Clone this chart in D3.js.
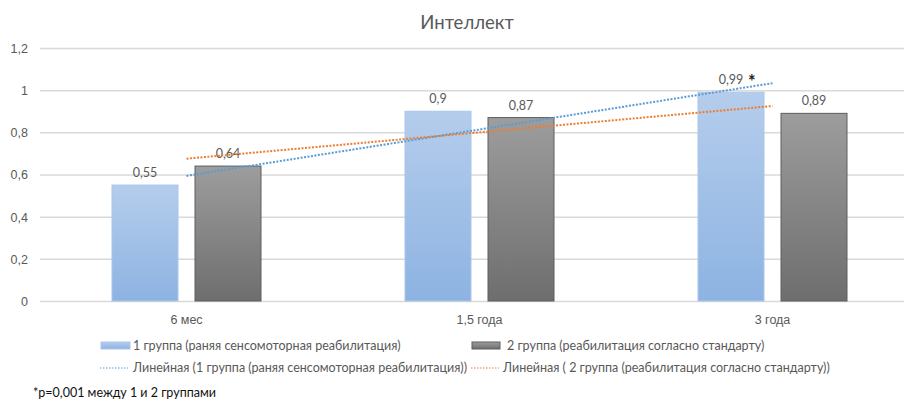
<!DOCTYPE html>
<html>
<head>
<meta charset="utf-8">
<script src="https://cdn.jsdelivr.net/npm/d3@7"></script>
<style>
  html, body { margin: 0; padding: 0; background: #fff; }
  svg { display: block; font-family: Lato, "Open Sans", "Noto Sans", sans-serif; }
</style>
</head>
<body>
<svg id="chart" width="904" height="401"></svg>
<script>
// Chart data
const categories = ["6 мес", "1,5 года", "3 года"];
const group1 = [0.55, 0.9, 0.99];
const group2 = [0.64, 0.87, 0.89];
const seriesNames = [
  "1 группа (раняя сенсомоторная реабилитация)",
  "2 группа (реабилитация согласно стандарту)"
];
const trendNames = [
  "Линейная (1 группа (раняя сенсомоторная реабилитация))",
  "Линейная ( 2 группа (реабилитация согласно стандарту))"
];
const yTicks = [0, 0.2, 0.4, 0.6, 0.8, 1, 1.2];
const starredIndex = 2; // significant difference at 3 года
const title = "Интеллект";
const footnote = "*p=0,001 между 1 и 2 группами";

const svg = d3.select("#chart");
const fmt = v => String(v).replace(".", ",");
const textColor = "#595959";
const fs = "12.5px";

const x = d3.scaleBand().domain(categories).range([40, 919]);
const y = d3.scaleLinear().domain([0, 1.2]).range([301, 48]);
const barW = 66, barGap = 17;

// gradients
const defs = svg.append("defs");
function grad(id, top, bottom) {
  const g = defs.append("linearGradient").attr("id", id)
    .attr("x1", 0).attr("y1", 0).attr("x2", 0).attr("y2", 1);
  g.append("stop").attr("offset", "0%").attr("stop-color", top);
  g.append("stop").attr("offset", "100%").attr("stop-color", bottom);
}
grad("gBlue", "#b5cdec", "#8db3e2");
grad("gGray", "#9d9d9d", "#6e6e6e");

// title
svg.append("text").attr("x", 467).attr("y", 29)
  .attr("text-anchor", "middle").attr("fill", textColor)
  .style("font-size", "18.5px").text(title);

// gridlines and y labels
const yAxis = d3.axisLeft(y).tickValues(yTicks).tickFormat(fmt).tickSize(-(904 - 40)).tickPadding(12);
const gy = svg.append("g").attr("transform", "translate(40,0)").call(yAxis);
gy.select(".domain").remove();
gy.selectAll(".tick line").attr("stroke", "#d9d9d9").attr("stroke-width", 1.5);
gy.selectAll(".tick text").attr("fill", textColor).style("font-size", fs)
  .attr("x", -12).attr("dy", "0.35em");

// x labels
const xAxis = d3.axisBottom(x).tickSize(0).tickPadding(14);
const gx = svg.append("g").attr("transform", "translate(0,301)").call(xAxis);
gx.select(".domain").remove();
gx.selectAll(".tick text").attr("fill", textColor).style("font-size", fs);

// bars with value labels
const groups = [
  { vals: group1, fill: "url(#gBlue)", stroke: "#a9c6ea", off: -(barW + barGap) / 2 },
  { vals: group2, fill: "url(#gGray)", stroke: "#5e5e5e", off: (barW + barGap) / 2 }
];
groups.forEach(gr => {
  const cx = i => x(categories[i]) + x.bandwidth() / 2 + gr.off;
  svg.append("g").selectAll("rect").data(gr.vals).join("rect")
    .attr("x", (d, i) => cx(i) - barW / 2)
    .attr("y", d => y(d))
    .attr("width", barW)
    .attr("height", d => y(0) - y(d))
    .attr("fill", gr.fill)
    .attr("stroke", gr.stroke).attr("stroke-width", 1);
  svg.append("g").selectAll("text").data(gr.vals).join("text")
    .attr("x", (d, i) => cx(i))
    .attr("y", d => y(d) - 8)
    .attr("text-anchor", "middle").attr("fill", textColor)
    .style("font-size", fs).text(d => fmt(d));
});

// significance marker
{
  const cx = x(categories[starredIndex]) + x.bandwidth() / 2 + groups[0].off;
  svg.append("text").attr("x", cx + 17).attr("y", y(group1[starredIndex]) - 4)
    .attr("fill", "#222").style("font-size", "18px").style("font-weight", "bold").text("*");
}

// linear trend lines (least squares over category index)
function trend(vals) {
  const xs = vals.map((d, i) => i + 1);
  const mx = d3.mean(xs), my = d3.mean(vals);
  const b = d3.sum(xs, (xi, i) => (xi - mx) * (vals[i] - my)) / d3.sum(xs, xi => (xi - mx) ** 2);
  const a = my - b * mx;
  return xs.map(xi => a + b * xi);
}
const line = d3.line()
  .x((d, i) => x(categories[i]) + x.bandwidth() / 2)
  .y(d => y(d));
[[group1, "#5b9bd5"], [group2, "#ed7d31"]].forEach(([vals, c]) => {
  svg.append("path").attr("d", line(trend(vals)))
    .attr("fill", "none").attr("stroke", c).attr("stroke-width", 2)
    .attr("stroke-dasharray", "2,1.5");
});

// legend
const leg = svg.append("g").style("font-size", fs);
leg.append("rect").attr("x", 101).attr("y", 342).attr("width", 29).attr("height", 7)
  .attr("fill", "url(#gBlue)").attr("stroke", "#a9c6ea");
leg.append("text").attr("x", 133).attr("y", 350).attr("fill", textColor).text(seriesNames[0]);
leg.append("rect").attr("x", 472).attr("y", 342).attr("width", 28).attr("height", 7)
  .attr("fill", "url(#gGray)").attr("stroke", "#5e5e5e");
leg.append("text").attr("x", 507).attr("y", 350).attr("fill", textColor).text(seriesNames[1]);

leg.append("line").attr("x1", 100).attr("x2", 128).attr("y1", 368).attr("y2", 368)
  .attr("stroke", "#5b9bd5").attr("stroke-width", 1).attr("stroke-dasharray", "1.5,1.5");
leg.append("text").attr("x", 133).attr("y", 372).attr("fill", textColor).text(trendNames[0]);
leg.append("line").attr("x1", 471).attr("x2", 499).attr("y1", 368).attr("y2", 368)
  .attr("stroke", "#ed7d31").attr("stroke-width", 1).attr("stroke-dasharray", "1.5,1.5");
leg.append("text").attr("x", 503).attr("y", 372).attr("fill", textColor).text(trendNames[1]);

// footnote
svg.append("text").attr("x", 33).attr("y", 397).attr("fill", "#111")
  .style("font-size", fs).text(footnote);
</script>
</body>
</html>
